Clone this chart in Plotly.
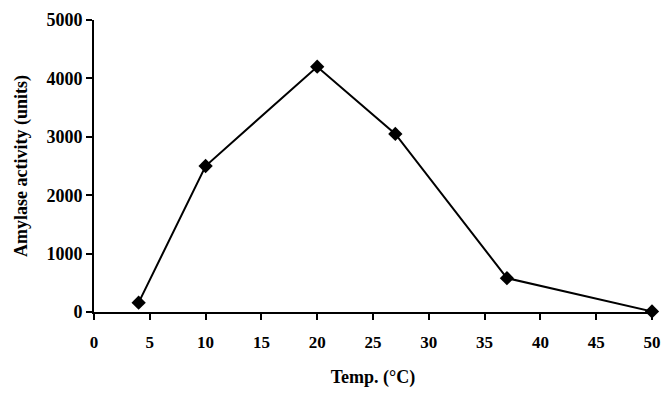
import plotly.graph_objects as go

temps = [4, 10, 20, 27, 37, 50]
activity = [160, 2500, 4200, 3050, 580, 10]
x_ticks = [0, 5, 10, 15, 20, 25, 30, 35, 40, 45, 50]
y_ticks = [0, 1000, 2000, 3000, 4000, 5000]

FONT = "Liberation Serif"

fig = go.Figure()
fig.add_trace(go.Scatter(
    x=temps, y=activity, mode="lines+markers",
    line=dict(color="black", width=2),
    marker=dict(symbol="diamond", size=11, color="black"),
    cliponaxis=False, showlegend=False, hoverinfo="skip",
))

fig.update_layout(
    width=671, height=394,
    margin=dict(l=94, r=10, t=16, b=76),
    paper_bgcolor="white", plot_bgcolor="white",
    font=dict(family=FONT, color="black"),
)
fig.update_xaxes(
    range=[0, 50], tickvals=x_ticks, ticktext=[str(v) for v in x_ticks],
    showgrid=False, zeroline=False, showline=True, linecolor="black", linewidth=2,
    ticks="outside", ticklen=6, tickwidth=2, tickcolor="black",
    tickfont=dict(family=FONT, size=17, weight="bold"),
    ticklabelstandoff=8,
    title=dict(text="Temp. (°C)", font=dict(family=FONT, size=18, weight="bold"), standoff=19),
)
fig.update_yaxes(
    range=[0, 5000], tickvals=y_ticks, ticktext=[str(v) for v in y_ticks],
    showgrid=False, zeroline=False, showline=True, linecolor="black", linewidth=2,
    ticks="outside", ticklen=6, tickwidth=2, tickcolor="black",
    tickfont=dict(family=FONT, size=18, weight="bold"),
    title=dict(text="Amylase activity (units)", font=dict(family=FONT, size=18, weight="bold"), standoff=14),
)

# remove the page's default 8px body margin so the figure fills the window exactly
fig.write_html(
    "out.html",
    config={"displayModeBar": False},
    post_script="document.body.style.margin='0';document.body.style.overflow='hidden';",
)
